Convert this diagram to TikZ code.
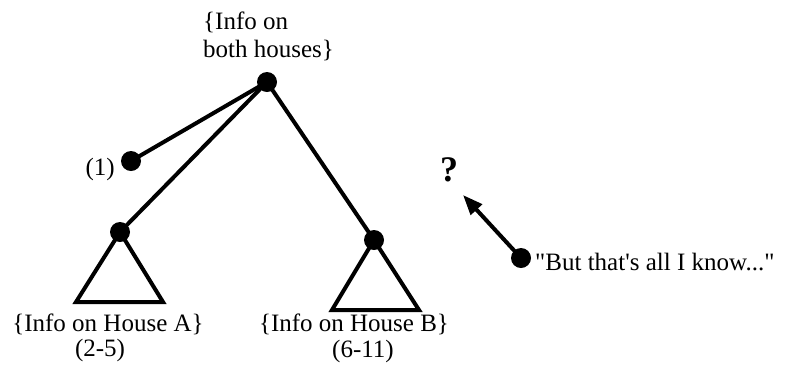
\documentclass[tikz,border=0pt]{standalone}
\usepackage{fontspec}
\setmainfont{Liberation Serif}
\usetikzlibrary{arrows.meta}
% plain font instance (no TeX ligature mapping) so quotes stay straight
\font\plainquote="Liberation Serif" at 25pt
\begin{document}
\begin{tikzpicture}[x=1pt,y=-1pt,
  dot/.style={circle,fill=black,inner sep=0pt,minimum size=20pt},
  edge/.style={line width=4pt},
  tri/.style={line width=4pt,line join=miter},
  lbl/.style={font=\fontsize{25}{29}\selectfont,inner sep=0pt}]
\useasboundingbox (0,0) rectangle (792,368);
% tree nodes
\node[dot] (root) at (267,82) {};
\node[dot] (one) at (131,161) {};
\node[dot] (ha) at (120,232) {};
\node[dot] (hb) at (374,240) {};
\node[dot] (know) at (521,258) {};
% subtrees under the houses
\coordinate (al) at (76,302);
\coordinate (ar) at (163,302);
\coordinate (bl) at (332,310);
\coordinate (br) at (419,310);
\draw[tri] (ha.center) -- (al) -- (ar) -- cycle;
\draw[tri] (hb.center) -- (bl) -- (br) -- cycle;
% branches
\draw[edge] (root.center) -- (one.center);
\draw[edge] (root.center) -- (ha.center);
\draw[edge] (root.center) -- (hb.center);
% labels
\node[lbl,anchor=base west] (top1) at (203,29) {\{Info on};
\node[lbl,anchor=base west] (top2) at (203,57) {both houses\}};
\node[lbl,anchor=base east] (onel) at (115,175) {(1)};
\node[lbl,anchor=base] (la) at (108,331) {\{Info on House A\}};
\node[lbl,anchor=base] (lan) at (100,356) {(2-5)};
\node[lbl,anchor=base] (lb) at (354,331) {\{Info on House B\}};
\node[lbl,anchor=base] (lbn) at (363,357) {(6-11)};
\node[inner sep=0pt,anchor=base west] (kl) at (535,270) {\plainquote "But that's all I know..."};
\node[font=\bfseries\fontsize{36}{36}\selectfont,inner sep=0pt,anchor=base] (q) at (449,181) {?};
\coordinate (tip) at (463,195);
\draw[line width=4pt,-{Triangle[length=20pt,width=15pt]}] (know.center) -- (tip);
\end{tikzpicture}
\end{document}
